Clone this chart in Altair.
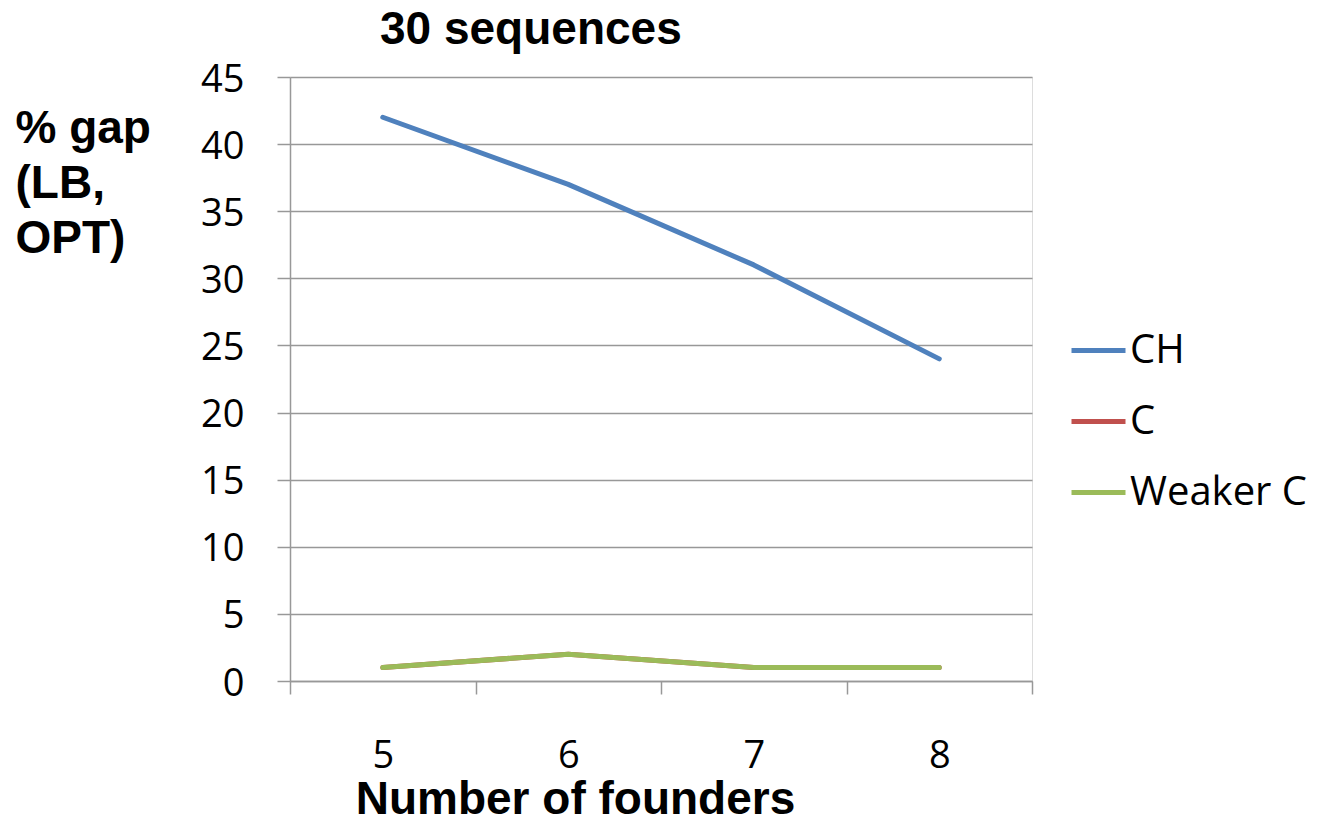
import altair as alt
import pandas as pd

# Number of founders on the x axis
founders = [5, 6, 7, 8]

# % gap between lower bound and optimum for each method
ch_gap = [42, 37, 31, 24]
c_gap = [1, 2, 1, 1]
weaker_c_gap = [1, 2, 1, 1]

series_names = ["CH", "C", "Weaker C"]
series_colors = ["#4F81BD", "#C0504D", "#9BBB59"]

rows = []
for name, vals in zip(series_names, [ch_gap, c_gap, weaker_c_gap]):
    for f, v in zip(founders, vals):
        rows.append({"founders": f, "gap": v, "method": name})
df = pd.DataFrame(rows)

tick_font = "Open Sans"
bold_font = "Liberation Sans"
grey = "#989898"

x_axis = alt.Axis(
    values=[4.5, 5.5, 6.5, 7.5, 8.5],
    labelExpr="datum.value < 8 ? format(datum.value + 0.5, 'd') : ''",
    labelOffset=92.75,
    labelFlush=False,
    labelFont=tick_font,
    labelFontSize=38,
    labelColor="#000000",
    labelBaseline="alphabetic",
    labelPadding=73,
    tickSize=13,
    tickColor=grey,
    tickWidth=1.5,
    domainColor=grey,
    domainWidth=1.5,
    grid=False,
    title="Number of founders",
    titleFont=bold_font,
    titleFontSize=46,
    titleFontWeight="bold",
    titleColor="#000000",
    titleBaseline="alphabetic",
    titleAlign="center",
    titleAnchor="start",
    titleX=285,
    titleY=132,
)

y_axis = alt.Axis(
    values=list(range(0, 50, 5)),
    labelFont=tick_font,
    labelFontSize=38,
    labelColor="#000000",
    labelPadding=33,
    labelOffset=3,
    tickSize=13,
    tickColor=grey,
    tickWidth=1.5,
    domainColor=grey,
    domainWidth=1.5,
    grid=True,
    gridColor=grey,
    gridWidth=1.5,
    title=["% gap", "(LB,", "OPT)"],
    titleFont=bold_font,
    titleFontSize=46,
    titleFontWeight="bold",
    titleColor="#000000",
    titleAngle=0,
    titleAlign="left",
    titleBaseline="alphabetic",
    titleLineHeight=55,
    titleX=-275,
    titleY=65,
)

legend = alt.Legend(
    title=None,
    orient="none",
    legendX=779,
    legendY=244,
    symbolType="stroke",
    symbolSize=2916,
    symbolStrokeWidth=5,
    symbolOffset=0,
    padding=0,
    rowPadding=21,
    labelOffset=2,
    labelLimit=300,
    labelFont=tick_font,
    labelFontSize=40,
    labelColor="#000000",
)

chart = (
    alt.Chart(df)
    .mark_line(strokeWidth=5, strokeCap="round", strokeJoin="round")
    .encode(
        x=alt.X("founders:Q", scale=alt.Scale(domain=[4.5, 8.5], nice=False, zero=False), axis=x_axis),
        y=alt.Y("gap:Q", scale=alt.Scale(domain=[0, 45], nice=False), axis=y_axis),
        color=alt.Color(
            "method:N",
            scale=alt.Scale(domain=series_names, range=series_colors),
            legend=legend,
        ),
        order=alt.Order("founders:Q"),
    )
    .properties(
        width=742,
        height=604,
        autosize=alt.AutoSizeParams(type="none"),
        padding={"left": 290, "top": 77, "right": 287, "bottom": 143},
        title=alt.TitleParams(
            "30 sequences",
            font=bold_font,
            fontSize=46,
            fontWeight="bold",
            color="#000000",
            anchor="start",
            frame="group",
            dx=90,
            dy=45,
            baseline="alphabetic",
            offset=16,
        ),
    )
    .configure_view(stroke=None)
    .configure(background="white")
)

chart.save("out.html", embed_options={"renderer": "svg", "actions": False})
